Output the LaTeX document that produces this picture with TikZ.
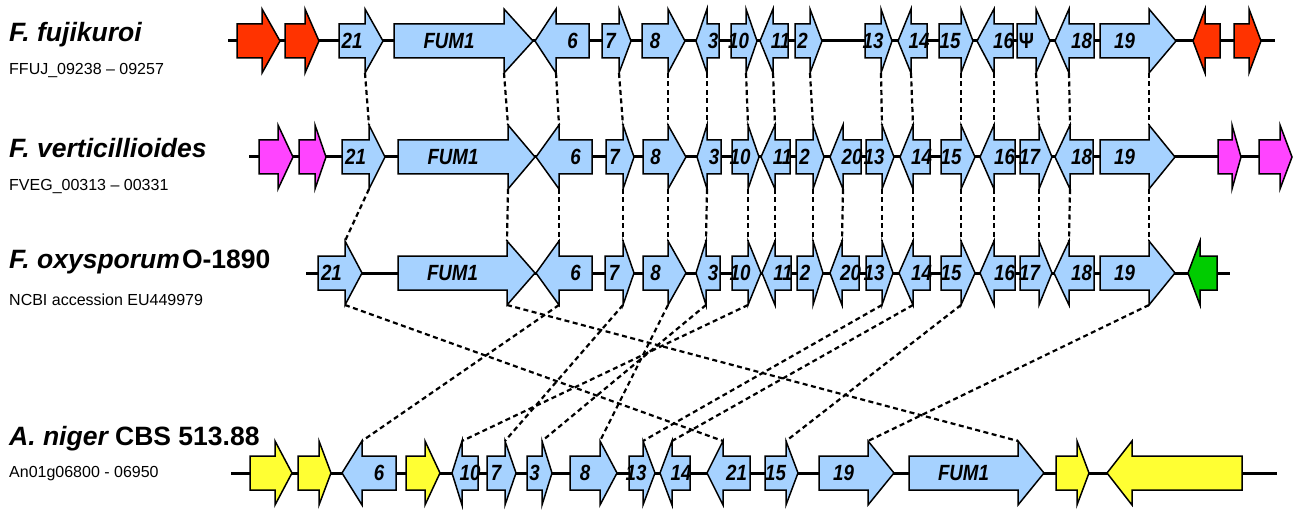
\documentclass[tikz,border=0pt]{standalone}
\usepackage{fontspec}
\setsansfont{Liberation Sans}
\definecolor{gblue}{HTML}{A6D2FF}
\definecolor{gred}{HTML}{FF3300}
\definecolor{gmag}{HTML}{FF44FF}
\definecolor{gyel}{HTML}{FFFF33}
\definecolor{ggrn}{HTML}{00CC00}
\tikzset{
  gene/.style={draw=black, line width=1.5pt, line join=miter},
  glabel/.style={font=\sffamily\bfseries\itshape\fontsize{22}{22}\selectfont, inner sep=0pt},
  backbone/.style={line width=3pt},
  link/.style={line width=2.2pt, dash pattern=on 5pt off 3.5pt},
  title/.style={font=\sffamily\bfseries\fontsize{26.5}{27}\selectfont, anchor=base west, inner sep=0pt},
  subt/.style={font=\sffamily\fontsize{16}{16}\selectfont, anchor=base west, inner sep=0pt},
}
% id, cy, body end, head base, tip, colour, label
\newcommand\gene[7]{%
  \draw[gene, fill=#6] (#3,#2-17) -- (#4,#2-17) -- (#4,#2-32) -- (#5,#2) -- (#4,#2+32) -- (#4,#2+17) -- (#3,#2+17) -- cycle;
  \coordinate (#1t) at (#4,#2-32);
  \coordinate (#1b) at (#4,#2+32);
  \node[glabel] (#1) at ({(#3+#4)/2},#2) {\scalebox{0.85}[1]{#7}};
}
\begin{document}
\begin{tikzpicture}[x=1pt,y=-1pt]
\useasboundingbox (0,0) rectangle (1294,516);
% titles
\node[title] (tf) at (9,42) {\itshape F. fujikuroi};
\node[subt] (sf) at (9,75) {FFUJ\_09238 – 09257};
\node[title] (tv) at (9,158) {\itshape F. verticillioides};
\node[subt] (sv) at (9,190) {FVEG\_00313 – 00331};
\node[title] (to) at (9,268) {{\itshape F. oxysporum}\hspace{2pt}O-1890};
\node[subt] (so) at (9,305) {NCBI accession EU449979};
\node[title] (tn) at (9,445) {{\itshape A. niger} CBS 513.88};
\node[subt] (sn) at (9,477) {An01g06800 - 06950};
% backbones
\coordinate (fL) at (228,41); \coordinate (fR) at (1275,41);
\coordinate (vL) at (249,157); \coordinate (vR) at (1282,157);
\coordinate (oL) at (306,273); \coordinate (oR) at (1230,273);
\coordinate (nL) at (231,473); \coordinate (nR) at (1277,473);
\draw[backbone] (fL) -- (fR);
\draw[backbone] (vL) -- (vR);
\draw[backbone] (oL) -- (oR);
\draw[backbone] (nL) -- (nR);
% row 1: F. fujikuroi
\gene{fxa}{41}{237}{262}{280}{gred}{}
\gene{fxb}{41}{285}{305}{319}{gred}{}
\gene{fg21}{41}{339}{365}{383}{gblue}{21}
\gene{fgF}{41}{394}{504}{533}{gblue}{FUM1}
\gene{fg6}{41}{589}{556}{535}{gblue}{6}
\gene{fg7}{41}{602}{619}{631}{gblue}{7}
\gene{fg8}{41}{642}{668}{685}{gblue}{8}
\gene{fg3}{41}{719}{707}{696}{gblue}{3}
\gene{fg10}{41}{731}{746}{757}{gblue}{10}
\gene{fg11}{41}{788}{773}{760}{gblue}{11}
\gene{fg2}{41}{795}{810}{822}{gblue}{2}
\gene{fg13}{41}{865}{881}{892}{gblue}{13}
\gene{fg14}{41}{927}{911}{898}{gblue}{14}
\gene{fg15}{41}{939}{961}{973}{gblue}{15}
\gene{fg16}{41}{1013}{994}{977}{gblue}{16}
\gene{fgpsi}{41}{1017}{1036}{1050}{gblue}{\upshape Ψ}
\gene{fg18}{41}{1094}{1069}{1055}{gblue}{18}
\gene{fg19}{41}{1100}{1149}{1176}{gblue}{19}
\gene{fxc}{41}{1220}{1205}{1193}{gred}{}
\gene{fxd}{41}{1234}{1249}{1261}{gred}{}
% row 2: F. verticillioides
\gene{vxa}{157}{259}{278}{293}{gmag}{}
\gene{vxb}{157}{299}{315}{326}{gmag}{}
\gene{vg21}{157}{342}{369}{385}{gblue}{21}
\gene{vgF}{157}{398}{508}{535}{gblue}{FUM1}
\gene{vg6}{157}{592}{559}{536}{gblue}{6}
\gene{vg7}{157}{606}{623}{634}{gblue}{7}
\gene{vg8}{157}{643}{668}{686}{gblue}{8}
\gene{vg3}{157}{721}{707}{697}{gblue}{3}
\gene{vg10}{157}{732}{748}{759}{gblue}{10}
\gene{vg11}{157}{790}{775}{761}{gblue}{11}
\gene{vg2}{157}{796}{813}{824}{gblue}{2}
\gene{vg20}{157}{861}{843}{830}{gblue}{20}
\gene{vg13}{157}{866}{882}{894}{gblue}{13}
\gene{vg14}{157}{930}{913}{900}{gblue}{14}
\gene{vg15}{157}{941}{961}{975}{gblue}{15}
\gene{vg16}{157}{1015}{994}{980}{gblue}{16}
\gene{vg17}{157}{1020}{1039}{1052}{gblue}{17}
\gene{vg18}{157}{1093}{1070}{1055}{gblue}{18}
\gene{vg19}{157}{1100}{1149}{1175}{gblue}{19}
\gene{vxc}{157}{1218}{1232}{1241}{gmag}{}
\gene{vxd}{157}{1259}{1280}{1292}{gmag}{}
% row 3: F. oxysporum
\gene{og21}{273}{318}{345}{362}{gblue}{21}
\gene{ogF}{273}{398}{507}{535}{gblue}{FUM1}
\gene{og6}{273}{592}{559}{536}{gblue}{6}
\gene{og7}{273}{605}{623}{634}{gblue}{7}
\gene{og8}{273}{643}{668}{686}{gblue}{8}
\gene{og3}{273}{720}{706}{696}{gblue}{3}
\gene{og10}{273}{732}{748}{761}{gblue}{10}
\gene{og11}{273}{791}{775}{762}{gblue}{11}
\gene{og2}{273}{797}{813}{823}{gblue}{2}
\gene{og20}{273}{859}{842}{830}{gblue}{20}
\gene{og13}{273}{866}{882}{893}{gblue}{13}
\gene{og14}{273}{930}{913}{899}{gblue}{14}
\gene{og15}{273}{941}{961}{975}{gblue}{15}
\gene{og16}{273}{1015}{994}{980}{gblue}{16}
\gene{og17}{273}{1020}{1039}{1052}{gblue}{17}
\gene{og18}{273}{1094}{1069}{1054}{gblue}{18}
\gene{og19}{273}{1100}{1149}{1175}{gblue}{19}
\gene{oxa}{273}{1217}{1200}{1188}{ggrn}{}
% row 4: A. niger
\gene{nxa}{473}{250}{275}{292}{gyel}{}
\gene{nxb}{473}{298}{319}{331}{gyel}{}
\gene{ng6}{473}{396}{362}{342}{gblue}{6}
\gene{nxc}{473}{406}{425}{440}{gyel}{}
\gene{ng10}{473}{478}{462}{452}{gblue}{10}
\gene{ng7}{473}{487}{505}{516}{gblue}{7}
\gene{ng3}{473}{527}{542}{552}{gblue}{3}
\gene{ng8}{473}{570}{600}{617}{gblue}{8}
\gene{ng13}{473}{629}{643}{655}{gblue}{13}
\gene{ng14}{473}{690}{672}{660}{gblue}{14}
\gene{ng21}{473}{750}{723}{707}{gblue}{21}
\gene{ng15}{473}{765}{786}{798}{gblue}{15}
\gene{ng19}{473}{819}{868}{894}{gblue}{19}
\gene{ngF}{473}{909}{1018}{1044}{gblue}{FUM1}
\gene{nxd}{473}{1056}{1077}{1089}{gyel}{}
\gene{nxe}{473}{1242}{1132}{1107}{gyel}{}
% links row 1 -> row 2
\foreach \g in {21,F,6,7,8,3,10,11,2,13,14,15,16,18,19}
  \draw[link] (fg\g b) -- (vg\g t);
\draw[link] (fgpsib) -- (vg17t);
% links row 2 -> row 3
\foreach \g in {21,F,6,7,8,3,10,11,2,20,13,14,15,16,17,18,19}
  \draw[link] (vg\g b) -- (og\g t);
% links row 3 -> row 4
\foreach \g in {21,F,6,7,8,3,10,13,14,15,19}
  \draw[link] (og\g b) -- (ng\g t);
\end{tikzpicture}
\end{document}
